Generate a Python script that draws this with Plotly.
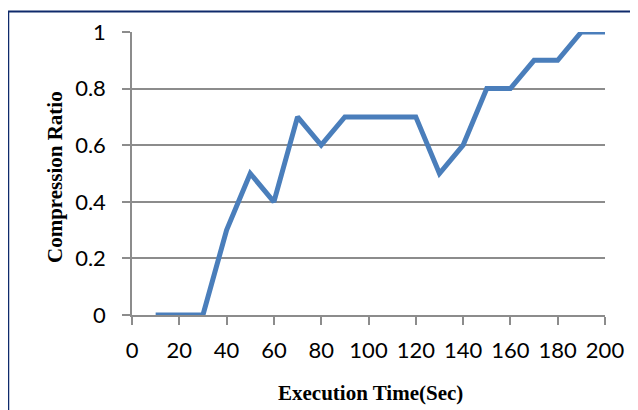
import plotly.graph_objects as go

time_sec = [10, 20, 30, 40, 50, 60, 70, 80, 90, 100, 110, 120, 130, 140, 150, 160, 170, 180, 190, 200]
compression_ratio = [0, 0, 0, 0.3, 0.5, 0.4, 0.7, 0.6, 0.7, 0.7, 0.7, 0.7, 0.5, 0.6, 0.8, 0.8, 0.9, 0.9, 1, 1]
x_ticks = [0, 20, 40, 60, 80, 100, 120, 140, 160, 180, 200]
y_ticks = [0, 0.2, 0.4, 0.6, 0.8, 1]
y_tick_labels = ["0", "0.2", "0.4", "0.6", "0.8", "1"]
x_title = "Execution Time(Sec)"
y_title = "Compression Ratio"

OFF = 8  # default page body margin
W, H = 638 - OFF, 410 - OFF
# plot area in page pixels: x 132..605, y 32..315
L, R, T, B = 132 - OFF, 638 - 605, 32 - OFF, 410 - 315
pw, ph = W - L - R, H - T - B

def px(x):
    return (x - OFF - L) / pw

def py(y):
    return (H - B - (y - OFF)) / ph

fig = go.Figure()
fig.add_trace(go.Scatter(
    x=time_sec, y=compression_ratio, mode="lines",
    line=dict(color="#4A7EBB", width=5), cliponaxis=False,
    showlegend=False,
))

tick_font = dict(family="Lato, Open Sans, sans-serif", size=22, color="#000000")
title_font = dict(family="Liberation Serif, Times New Roman, serif", size=21, color="#000000")

fig.update_layout(
    width=W, height=H,
    margin=dict(l=L, r=R, t=T, b=B, autoexpand=False),
    paper_bgcolor="white", plot_bgcolor="white",
    xaxis=dict(
        range=[0, 200], tickvals=x_ticks, ticktext=[str(v) for v in x_ticks],
        showgrid=False, zeroline=False, showline=True, linecolor="#8c8c8c", linewidth=1.5,
        ticks="outside", ticklen=8, tickcolor="#8c8c8c", tickwidth=1.5,
        tickfont=tick_font, ticklabelstandoff=7, automargin=False,
    ),
    yaxis=dict(
        range=[0, 1], tickvals=y_ticks, ticktext=y_tick_labels,
        showgrid=True, gridcolor="#8c8c8c", gridwidth=1.5,
        zeroline=False, showline=True, linecolor="#8c8c8c", linewidth=1.5,
        ticks="outside", ticklen=8, tickcolor="#8c8c8c", tickwidth=1.5,
        tickfont=tick_font, ticklabelstandoff=12, automargin=False,
    ),
    annotations=[
        dict(text="<b>" + x_title + "</b>", xref="paper", yref="paper", x=px(370), y=py(393),
             xanchor="center", yanchor="middle", showarrow=False, font=title_font),
        dict(text="<b>" + y_title + "</b>", xref="paper", yref="paper", x=px(55), y=py(177),
             xanchor="center", yanchor="middle", showarrow=False, font=title_font, textangle=-90),
    ],
    shapes=[
        dict(type="line", xref="paper", yref="paper", x0=px(8), x1=px(8), y0=py(11), y1=py(420),
             line=dict(color="#0F2A6B", width=2.5)),
        dict(type="line", xref="paper", yref="paper", x0=px(7), x1=px(640), y0=py(11.5), y1=py(11.5),
             line=dict(color="#0F2A6B", width=2)),
    ],
)

fig.write_html("out.html")
